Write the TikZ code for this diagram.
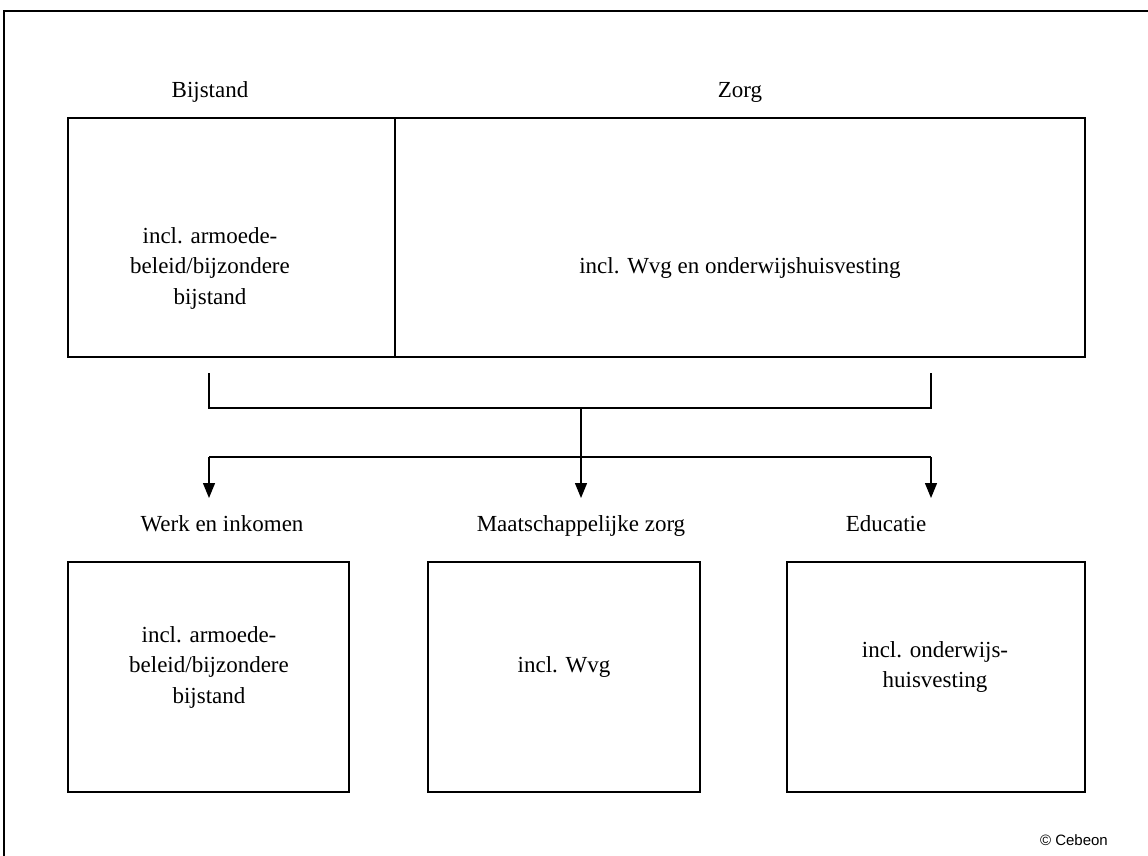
\documentclass[tikz,border=0pt]{standalone}
\usepackage{fontspec}
\setmainfont{Liberation Serif}
\newfontfamily\arialfont{Liberation Sans}
\usetikzlibrary{arrows.meta}
\begin{document}
\begin{tikzpicture}[x=1pt,y=-1pt,
  box/.style={draw, line width=2.6pt},
  lbl/.style={font=\fontsize{23}{28}\selectfont, inner sep=0pt, anchor=base},
  txt/.style={font=\fontsize{23}{30.5}\selectfont, align=center, inner sep=0pt},
  conn/.style={line width=1.3pt},
  arr/.style={line width=1.3pt, -{Triangle[length=15pt,width=12pt]}}]
\clip (0,0) rectangle (1148,856);
\fill[white] (0,0) rectangle (1148,856);
% outer frame
\draw[line width=2.2pt] (4,1000) -- (4,11) -- (1200,11);
% top boxes
\draw[box] (68,118) rectangle (1085,357);
\draw[box] (395,118) -- (395,357);
\node[lbl] (bij) at (210,98) {Bijstand};
\node[lbl] (zorg) at (740,98) {Zorg};
\node[txt] (bijtxt) at (210,268) {incl. armoede-\\beleid/bijzondere\\bijstand};
\node[txt] (zorgtxt) at (740,268) {incl. Wvg en onderwijshuisvesting};
% connectors
\coordinate (l1) at (209,373);
\coordinate (r1) at (931,373);
\coordinate (l2) at (209,408);
\coordinate (c2) at (581,408);
\coordinate (r2) at (931,408);
\coordinate (l3) at (209,457);
\coordinate (c3) at (581,457);
\coordinate (r3) at (931,457);
\coordinate (la) at (209,498);
\coordinate (ca) at (581,498);
\coordinate (ra) at (931,498);
\draw[conn] (l1) -- (l2) -- (r2) -- (r1);
\draw[conn] (c2) -- (c3);
\draw[conn] (l3) -- (r3);
\draw[arr] (l3) -- (la);
\draw[arr] (c3) -- (ca);
\draw[arr] (r3) -- (ra);
% bottom labels
\node[lbl] (werk) at (222,531) {Werk en inkomen};
\node[lbl] (maat) at (581,531) {Maatschappelijke zorg};
\node[lbl] (edu) at (886,531) {Educatie};
% bottom boxes
\draw[box] (68,562) rectangle (349,792);
\draw[box] (428,562) rectangle (700,792);
\draw[box] (787,562) rectangle (1085,792);
\node[txt] (t1) at (209,667) {incl. armoede-\\beleid/bijzondere\\bijstand};
\node[txt] (t2) at (564,667) {incl. Wvg};
\node[txt] (t3) at (935,667) {incl. onderwijs-\\huisvesting};
\node[font=\arialfont\fontsize{15}{18}\selectfont, anchor=base east, inner sep=0pt] (cop) at (1108,845) {© Cebeon};
\end{tikzpicture}
\end{document}
